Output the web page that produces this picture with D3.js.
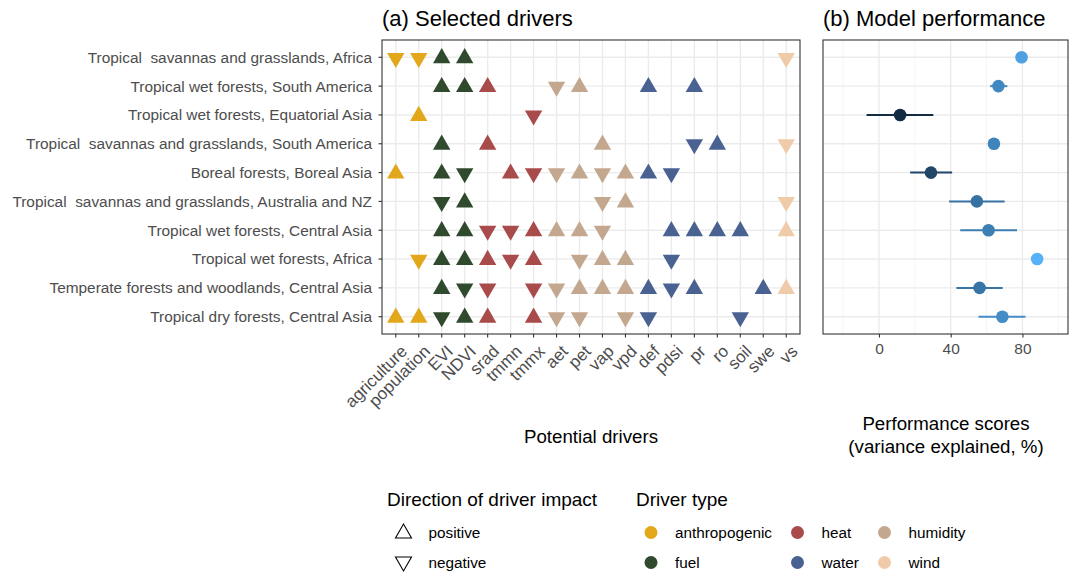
<!DOCTYPE html>
<html>
<head>
<meta charset="utf-8">
<script src="https://cdn.jsdelivr.net/npm/d3@7"></script>
<style>
  body { margin: 0; background: #fff; }
  svg { font-family: "Liberation Sans", Arial, sans-serif; }
  .ylab { white-space: pre; }
</style>
</head>
<body>
<script>
// regions (rows, top to bottom)
const regions = [
	"Tropical  savannas and grasslands, Africa",
	"Tropical wet forests, South America",
	"Tropical wet forests, Equatorial Asia",
	"Tropical  savannas and grasslands, South America",
	"Boreal forests, Boreal Asia",
	"Tropical  savannas and grasslands, Australia and NZ",
	"Tropical wet forests, Central Asia",
	"Tropical wet forests, Africa",
	"Temperate forests and woodlands, Central Asia",
	"Tropical dry forests, Central Asia"
];

// potential drivers and their type
const drivers = ["agriculture", "population", "EVI", "NDVI", "srad", "tmmn", "tmmx",
	"aet", "pet", "vap", "vpd", "def", "pdsi", "pr", "ro", "soil", "swe", "vs"];
const driverTypes = ["anthropogenic", "anthropogenic", "fuel", "fuel", "heat", "heat", "heat",
	"humidity", "humidity", "humidity", "humidity", "water", "water", "water", "water", "water", "water", "wind"];

const typeNames = ["anthropogenic", "fuel", "heat", "water", "humidity", "wind"];
const typeColors = ["#E3A71C", "#2F4A2D", "#A94A4B", "#4A6291", "#C3A88F", "#EFCBAA"];

// selected drivers: 1 = positive, -1 = negative, 0 = not selected (same order as drivers)
const impacts = [
	[-1,-1, 1, 1, 0, 0, 0, 0, 0, 0, 0, 0, 0, 0, 0, 0, 0,-1],
	[ 0, 0, 1, 1, 1, 0, 0,-1, 1, 0, 0, 1, 0, 1, 0, 0, 0, 0],
	[ 0, 1, 0, 0, 0, 0,-1, 0, 0, 0, 0, 0, 0, 0, 0, 0, 0, 0],
	[ 0, 0, 1, 0, 1, 0, 0, 0, 0, 1, 0, 0, 0,-1, 1, 0, 0,-1],
	[ 1, 0, 1,-1, 0, 1,-1,-1, 1,-1, 1, 1,-1, 0, 0, 0, 0, 0],
	[ 0, 0,-1, 1, 0, 0, 0, 0, 0,-1, 1, 0, 0, 0, 0, 0, 0,-1],
	[ 0, 0, 1, 1,-1,-1, 1, 1, 1,-1, 0, 0, 1, 1, 1, 1, 0, 1],
	[ 0,-1, 1, 1, 1,-1, 1, 0,-1, 1, 1, 0,-1, 0, 0, 0, 0, 0],
	[ 0, 0, 1,-1,-1, 0,-1,-1, 1, 1, 1, 1,-1, 1, 0, 0, 1, 1],
	[ 1, 1,-1, 1, 1, 0, 1,-1,-1, 0,-1,-1, 0, 0, 0,-1, 0, 0]
];

// model performance (variance explained, %)
const scores = [79.5, 66.6, 11.8, 64.1, 29.0, 54.6, 61.1, 88.2, 56.1, 68.8];
const scoreLow = [79.5, 62.0, -6.9, 64.1, 17.4, 39.1, 45.3, 88.2, 43.2, 55.5];
const scoreHigh = [79.5, 71.6, 30.3, 64.1, 40.8, 70.1, 77.0, 88.2, 69.0, 81.7];
const perfTicks = [0, 40, 80];

const width = 1072, height = 576;
const panelTop = 40, panelBottom = 334;
const leftA = 382, rightA = 800;
const leftB = 823, rightB = 1068;

const svg = d3.select("body").append("svg")
	.attr("width", width)
	.attr("height", height);

const gridCol = "#EBEBEB";
const tickTextCol = "#4D4D4D";

// discrete scales, ggplot style 0.6 expansion
const yScale = d3.scalePoint().domain(regions).range([panelTop, panelBottom]).padding(0.6);
const xScale = d3.scalePoint().domain(drivers).range([leftA, rightA]).padding(0.6);
const typeColor = d3.scaleOrdinal().domain(typeNames).range(typeColors);

// ---- panel (a)
const pa = svg.append("g");
pa.append("rect").attr("x", leftA).attr("y", panelTop)
	.attr("width", rightA - leftA).attr("height", panelBottom - panelTop).attr("fill", "#fff");

pa.selectAll(".vg").data(drivers).enter().append("line")
	.attr("x1", d => xScale(d)).attr("x2", d => xScale(d))
	.attr("y1", panelTop).attr("y2", panelBottom)
	.attr("stroke", gridCol).attr("stroke-width", 1.4);
pa.selectAll(".hg").data(regions).enter().append("line")
	.attr("y1", d => yScale(d)).attr("y2", d => yScale(d))
	.attr("x1", leftA).attr("x2", rightA)
	.attr("stroke", gridCol).attr("stroke-width", 1.4);

// triangle paths
const upTri = "M-8.7,6 L8.7,6 L0,-9.2 Z";
const downTri = "M-8.7,-4.4 L8.7,-4.4 L0,10.6 Z";

const cells = [];
impacts.forEach(function(row, i) {
	row.forEach(function(v, j) {
		if (v !== 0) cells.push({region: regions[i], driver: drivers[j], type: driverTypes[j], dir: v});
	});
});

pa.selectAll(".tri").data(cells).enter().append("path")
	.attr("transform", d => "translate(" + xScale(d.driver) + "," + yScale(d.region) + ")")
	.attr("d", d => d.dir > 0 ? upTri : downTri)
	.attr("fill", d => typeColor(d.type));

pa.append("rect").attr("x", leftA).attr("y", panelTop)
	.attr("width", rightA - leftA).attr("height", panelBottom - panelTop)
	.attr("fill", "none").attr("stroke", "#333").attr("stroke-width", 1.1);

// y axis
pa.selectAll(".ytick").data(regions).enter().append("line")
	.attr("x1", leftA - 3.5).attr("x2", leftA)
	.attr("y1", d => yScale(d)).attr("y2", d => yScale(d))
	.attr("stroke", "#333").attr("stroke-width", 1.1);
pa.selectAll(".ylab").data(regions).enter().append("text")
	.attr("class", "ylab")
	.attr("x", leftA - 10).attr("y", d => yScale(d))
	.attr("dy", "0.35em")
	.attr("text-anchor", "end")
	.attr("font-size", 15.4)
	.attr("fill", tickTextCol)
	.text(d => d);

// x axis
pa.selectAll(".xtick").data(drivers).enter().append("line")
	.attr("x1", d => xScale(d)).attr("x2", d => xScale(d))
	.attr("y1", panelBottom).attr("y2", panelBottom + 3.5)
	.attr("stroke", "#333").attr("stroke-width", 1.1);
pa.selectAll(".xlab").data(drivers).enter().append("text")
	.attr("transform", d => "translate(" + (xScale(d) + 4) + "," + (panelBottom + 10) + ") rotate(-45)")
	.attr("text-anchor", "end")
	.attr("dy", "0.7em")
	.attr("font-size", 17)
	.attr("fill", tickTextCol)
	.text(d => d);

svg.append("text").attr("x", (leftA + rightA) / 2).attr("y", 443)
	.attr("text-anchor", "middle").attr("font-size", 18.7).text("Potential drivers");

svg.append("text").attr("x", leftA).attr("y", 26)
	.attr("font-size", 22).text("(a) Selected drivers");

// ---- panel (b)
const xPerf = d3.scaleLinear().domain([-31.2, 105.4]).range([leftB, rightB]);
const perfColor = d3.scaleLinear()
	.domain(d3.extent(scores))
	.range(["#132B43", "#56B1F7"])
	.interpolate(d3.interpolateLab);

const pb = svg.append("g");
pb.append("rect").attr("x", leftB).attr("y", panelTop)
	.attr("width", rightB - leftB).attr("height", panelBottom - panelTop).attr("fill", "#fff");

const minorTicks = [-20, 20, 60, 100];
pb.selectAll(".mg").data(minorTicks).enter().append("line")
	.attr("x1", d => xPerf(d)).attr("x2", d => xPerf(d))
	.attr("y1", panelTop).attr("y2", panelBottom)
	.attr("stroke", "#F2F2F2").attr("stroke-width", 0.8);
pb.selectAll(".vg").data(perfTicks).enter().append("line")
	.attr("x1", d => xPerf(d)).attr("x2", d => xPerf(d))
	.attr("y1", panelTop).attr("y2", panelBottom)
	.attr("stroke", gridCol).attr("stroke-width", 1.4);
pb.selectAll(".hg").data(regions).enter().append("line")
	.attr("y1", d => yScale(d)).attr("y2", d => yScale(d))
	.attr("x1", leftB).attr("x2", rightB)
	.attr("stroke", gridCol).attr("stroke-width", 1.4);

pb.selectAll(".err").data(regions).enter().append("line")
	.attr("x1", (d, i) => xPerf(scoreLow[i])).attr("x2", (d, i) => xPerf(scoreHigh[i]))
	.attr("y1", d => yScale(d)).attr("y2", d => yScale(d))
	.attr("stroke", (d, i) => perfColor(scores[i])).attr("stroke-width", 2);
pb.selectAll(".pt").data(regions).enter().append("circle")
	.attr("cx", (d, i) => xPerf(scores[i]))
	.attr("cy", d => yScale(d))
	.attr("r", 6.3)
	.attr("fill", (d, i) => perfColor(scores[i]));

pb.append("rect").attr("x", leftB).attr("y", panelTop)
	.attr("width", rightB - leftB).attr("height", panelBottom - panelTop)
	.attr("fill", "none").attr("stroke", "#333").attr("stroke-width", 1.1);

const xAxisB = d3.axisBottom(xPerf).tickValues(perfTicks).tickSize(3.5).tickSizeOuter(0);
const gAxB = svg.append("g").attr("transform", "translate(0," + panelBottom + ")").call(xAxisB);
gAxB.select(".domain").remove();
gAxB.selectAll(".tick line").attr("stroke", "#333").attr("stroke-width", 1.1);
gAxB.selectAll(".tick text").attr("font-size", 15.5).attr("fill", tickTextCol)
	.attr("font-family", "Liberation Sans, Arial, sans-serif").attr("y", 9);

svg.append("text").attr("x", (leftB + rightB) / 2 + 0.5).attr("y", 430)
	.attr("text-anchor", "middle").attr("font-size", 18.7).text("Performance scores");
svg.append("text").attr("x", (leftB + rightB) / 2 + 0.5).attr("y", 453)
	.attr("text-anchor", "middle").attr("font-size", 18.7).text("(variance explained, %)");

svg.append("text").attr("x", leftB).attr("y", 26)
	.attr("font-size", 22).text("(b) Model performance");

// ---- legends
const directions = [{label: "positive", dir: 1}, {label: "negative", dir: -1}];
const legRows = [532.5, 562.5];

svg.append("text").attr("x", 387).attr("y", 506)
	.attr("font-size", 19).text("Direction of driver impact");
const legDir = svg.selectAll(".ld").data(directions).enter().append("g")
	.attr("transform", (d, i) => "translate(403.5," + legRows[i] + ")");
legDir.append("path")
	.attr("d", d => d.dir > 0 ? "M-8,5.5 L8,5.5 L0,-8.5 Z" : "M-8,-5.5 L8,-5.5 L0,8.5 Z")
	.attr("fill", "none").attr("stroke", "#000").attr("stroke-width", 1.1);
legDir.append("text").attr("x", 25).attr("dy", "0.35em")
	.attr("font-size", 15.3).text(d => d.label);

svg.append("text").attr("x", 636).attr("y", 506)
	.attr("font-size", 19).text("Driver type");
const legColX = [651, 797.5, 884.5];
const legType = svg.selectAll(".lt").data(typeNames).enter().append("g")
	.attr("transform", (d, i) => "translate(" + legColX[Math.floor(i / 2)] + "," + legRows[i % 2] + ")");
legType.append("circle").attr("r", 6.5).attr("fill", d => typeColor(d));
legType.append("text").attr("x", 24).attr("dy", "0.35em")
	.attr("font-size", 15.3).text(d => d);
</script>
</body>
</html>
